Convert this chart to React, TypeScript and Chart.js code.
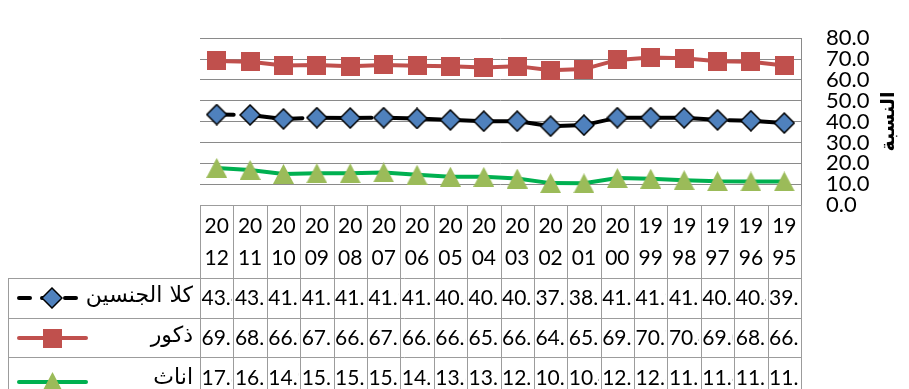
import React, { useEffect, useRef } from 'react';
import { Chart, registerables } from 'chart.js';

Chart.register(...registerables);

// Years run from newest (left) to oldest (right)
const years = ['2012', '2011', '2010', '2009', '2008', '2007', '2006', '2005', '2004', '2003', '2002', '2001', '2000', '1999', '1998', '1997', '1996', '1995'];
const bothSexes = [43.4, 43.2, 41.3, 41.9, 41.7, 41.9, 41.5, 40.8, 40.2, 40.2, 37.8, 38.3, 41.9, 41.9, 41.8, 40.8, 40.4, 39.3];
const males = [69.1, 68.7, 66.9, 67.1, 66.6, 67.2, 66.8, 66.6, 65.9, 66.6, 64.6, 65.2, 69.6, 70.7, 70.4, 69.0, 68.7, 66.9];
const females = [17.8, 16.8, 14.9, 15.2, 15.2, 15.6, 14.5, 13.6, 13.5, 12.7, 10.5, 10.4, 12.9, 12.6, 11.9, 11.4, 11.3, 11.3];
const seriesNames = ['كلا الجنسين', 'ذكور', 'اناث'];
const axisTitle = 'النسبة';
const yMin = 0;
const yMax = 80;
const yStep = 10;

const RED = '#C0504D';
const BLUE = '#4F81BD';
const GREEN_LINE = '#00B050';
const GREEN_MARK = '#9BBB59';
const GRID = '#8a8a8a';
const TABLE_LINE = '#9c9c9c';
const NUM_FONT = 'Lato, "DejaVu Sans", sans-serif';
const AR_FONT = '"DejaVu Sans", sans-serif';

function makeDiamond(): HTMLCanvasElement {
  const c = document.createElement('canvas');
  c.width = 22;
  c.height = 22;
  const g = c.getContext('2d')!;
  g.beginPath();
  g.moveTo(11, 1);
  g.lineTo(21, 11);
  g.lineTo(11, 21);
  g.lineTo(1, 11);
  g.closePath();
  g.fillStyle = BLUE;
  g.fill();
  g.lineWidth = 1.5;
  g.strokeStyle = '#000';
  g.stroke();
  return c;
}

function makeSquare(): HTMLCanvasElement {
  const c = document.createElement('canvas');
  c.width = 19;
  c.height = 19;
  const g = c.getContext('2d')!;
  g.fillStyle = RED;
  g.fillRect(0, 0, 19, 19);
  return c;
}

function makeTriangle(): HTMLCanvasElement {
  const c = document.createElement('canvas');
  c.width = 21;
  c.height = 20;
  const g = c.getContext('2d')!;
  g.beginPath();
  g.moveTo(10.5, 0);
  g.lineTo(21, 20);
  g.lineTo(0, 20);
  g.closePath();
  g.fillStyle = GREEN_MARK;
  g.fill();
  return c;
}

export default function App() {
  const canvasRef = useRef<HTMLCanvasElement | null>(null);

  useEffect(() => {
    const canvas = canvasRef.current;
    if (!canvas) return;

    const diamond = makeDiamond();
    const square = makeSquare();
    const triangle = makeTriangle();
    const seriesData = [bothSexes, males, females];
    const markers = [diamond, square, triangle];

    // Data table drawn beneath the plot, aligned to the category columns
    const dataTable = {
      id: 'dataTable',
      afterDraw(chart: any) {
        const ctx: CanvasRenderingContext2D = chart.ctx;
        const a = chart.chartArea;
        const n = years.length;
        const cw = (a.right - a.left) / n;
        const headTop = a.bottom;
        const rowLines = [278, 318, 357];
        const rowBottoms = [318, 357, 396];
        const tableLeft = 8;
        const bottom = chart.height + 10;
        const px = (v: number) => Math.round(v) + 0.5;

        ctx.save();
        ctx.strokeStyle = TABLE_LINE;
        ctx.lineWidth = 1;
        ctx.beginPath();
        ctx.moveTo(a.left, px(headTop));
        ctx.lineTo(a.right, px(headTop));
        rowLines.forEach((y) => {
          ctx.moveTo(tableLeft, px(y));
          ctx.lineTo(a.right, px(y));
        });
        for (let i = 0; i <= n; i++) {
          const x = px(a.left + i * cw);
          ctx.moveTo(x, headTop);
          ctx.lineTo(x, bottom);
        }
        ctx.moveTo(px(tableLeft), rowLines[0]);
        ctx.lineTo(px(tableLeft), bottom);
        ctx.stroke();

        // year headers, split over two lines
        ctx.fillStyle = '#000';
        ctx.font = `21px ${NUM_FONT}`;
        ctx.textAlign = 'center';
        ctx.textBaseline = 'middle';
        years.forEach((yr, i) => {
          const cx = a.left + (i + 0.5) * cw;
          ctx.fillText(yr.slice(0, 2), cx, 226);
          ctx.fillText(yr.slice(2), cx, 258);
        });

        // values, clipped to their cells
        const valueMid = [298.5, 338.5, 378];
        seriesData.forEach((vals, r) => {
          const top = rowLines[r];
          const h = rowBottoms[r] - top;
          vals.forEach((v, i) => {
            const x0 = a.left + i * cw;
            ctx.save();
            ctx.beginPath();
            ctx.rect(x0 + 1, top + 1, cw - 3, h - 1);
            ctx.clip();
            ctx.textAlign = 'left';
            ctx.fillText(v.toFixed(1), x0 + 1.5, valueMid[r]);
            ctx.restore();
          });
        });

        // legend keys and series names
        const keyY = [298, 338, 382];
        const textY = [296, 336, 378];
        ctx.lineCap = 'round';
        ctx.lineWidth = 4;
        // both sexes: dashed black
        ctx.strokeStyle = '#000';
        ctx.setLineDash([11, 12]);
        ctx.beginPath();
        ctx.moveTo(19, keyY[0]);
        ctx.lineTo(76, keyY[0]);
        ctx.stroke();
        ctx.setLineDash([]);
        // males
        ctx.strokeStyle = RED;
        ctx.beginPath();
        ctx.moveTo(19, keyY[1]);
        ctx.lineTo(86, keyY[1]);
        ctx.stroke();
        // females
        ctx.strokeStyle = GREEN_LINE;
        ctx.beginPath();
        ctx.moveTo(19, keyY[2]);
        ctx.lineTo(86, keyY[2]);
        ctx.stroke();
        markers.forEach((m, r) => {
          ctx.drawImage(m, Math.round(52 - m.width / 2), Math.round(keyY[r] - m.height / 2));
        });

        ctx.font = `22px ${AR_FONT}`;
        ctx.textAlign = 'right';
        ctx.textBaseline = 'middle';
        ctx.fillStyle = '#000';
        seriesNames.forEach((name, r) => {
          ctx.fillText(name, 193, textY[r]);
        });

        // vertical axis title
        ctx.save();
        ctx.translate(889, (a.top + a.bottom) / 2);
        ctx.rotate(-Math.PI / 2);
        ctx.font = `bold 19px ${AR_FONT}`;
        ctx.textAlign = 'center';
        ctx.textBaseline = 'middle';
        ctx.fillText(axisTitle, 0, 0);
        ctx.restore();

        ctx.restore();
      },
    };

    const chart = new Chart(canvas, {
      type: 'line',
      data: {
        labels: years,
        datasets: [
          {
            label: seriesNames[0],
            data: bothSexes,
            borderColor: '#000',
            borderWidth: 4,
            borderDash: [55, 14],
            borderDashOffset: 38,
            borderCapStyle: 'round',
            pointStyle: diamond,
            pointRadius: 11,
            tension: 0,
          },
          {
            label: seriesNames[1],
            data: males,
            borderColor: RED,
            borderWidth: 4,
            pointStyle: square,
            pointRadius: 10,
            tension: 0,
          },
          {
            label: seriesNames[2],
            data: females,
            borderColor: GREEN_LINE,
            borderWidth: 4,
            pointStyle: triangle,
            pointRadius: 10,
            tension: 0,
          },
        ],
      },
      options: {
        responsive: false,
        animation: false,
        layout: { padding: { left: 200, top: 23, bottom: 184, right: 0 } },
        plugins: {
          legend: { display: false },
          tooltip: { enabled: false },
        },
        scales: {
          x: { display: false, offset: true },
          y: {
            position: 'right',
            min: yMin,
            max: yMax,
            ticks: {
              stepSize: yStep,
              autoSkip: false,
              callback: (v: any) => Number(v).toFixed(1),
              padding: 25,
              color: '#000',
              font: { family: NUM_FONT, size: 22 },
            },
            grid: { color: GRID, lineWidth: 1, drawTicks: false },
            border: { display: true, color: GRID, width: 1 },
            afterFit: (s: any) => {
              s.width = 108;
            },
          },
        },
      } as any,
      plugins: [dataTable],
    });

    return () => chart.destroy();
  }, []);

  return (
    <div style={{ position: 'fixed', left: 0, top: 0, width: 909, height: 389, background: '#fff' }}>
      <canvas ref={canvasRef} width={909} height={389} style={{ display: 'block' }} />
    </div>
  );
}
